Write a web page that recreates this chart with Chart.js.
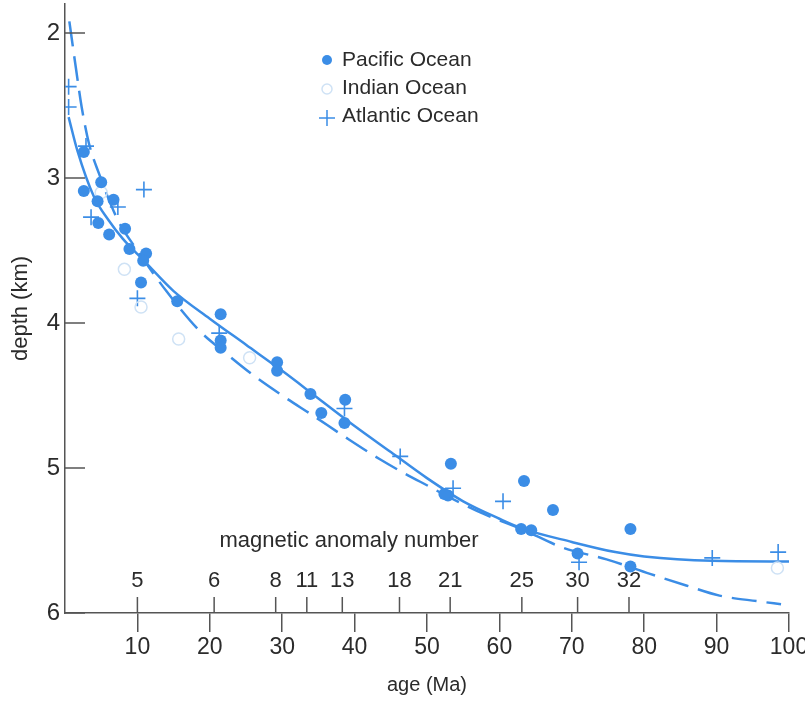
<!DOCTYPE html>
<html>
<head>
<meta charset="utf-8">
<title>Depth vs age of ocean floor</title>
<script src="https://cdn.jsdelivr.net/npm/chart.js@4.4.1/dist/chart.umd.min.js"></script>
<style>
  body { margin: 0; background: #fff; }
  #wrap { width: 805px; height: 704px; }
</style>
</head>
<body>
<div id="wrap"><canvas id="depthChart" width="805" height="704"></canvas></div>
<script>
// Data: age in Ma, depth in km
const pacificAge   = [2.6, 2.6, 5.0, 4.5, 6.7, 4.6, 6.1, 8.3, 8.9, 11.2, 10.8, 10.5, 15.5, 21.5, 21.5, 21.5,
                      29.3, 29.3, 33.9, 35.4, 38.7, 38.6, 53.3, 52.9, 52.4, 63.4, 63.0, 64.4, 67.4, 70.8, 78.1, 78.1];
const pacificDepth = [2.82, 3.09, 3.03, 3.16, 3.15, 3.31, 3.39, 3.35, 3.49, 3.52, 3.57, 3.72, 3.85, 3.94, 4.12, 4.17,
                      4.27, 4.33, 4.49, 4.62, 4.53, 4.69, 4.97, 5.19, 5.18, 5.09, 5.42, 5.43, 5.29, 5.59, 5.42, 5.68];

const indianAge   = [5.0, 8.2, 10.5, 15.7, 25.5, 98.4];
const indianDepth = [3.10, 3.63, 3.89, 4.11, 4.24, 5.69];

const atlanticAge   = [0.5, 0.5, 2.9, 3.6, 7.3, 10.9, 10.0, 21.3, 38.6, 46.3, 53.6, 60.5, 71.0, 89.4, 98.5];
const atlanticDepth = [2.37, 2.51, 2.78, 3.27, 3.20, 3.08, 3.83, 4.07, 4.59, 4.92, 5.14, 5.23, 5.65, 5.62, 5.58];

// solid fitted curve
const solidAge   = [0.5, 1.7, 4, 6, 8, 10.9, 15, 20, 25, 30, 35, 40, 45, 50, 55, 60, 63.3, 70, 76, 80, 89.4, 100.5];
const solidDepth = [2.58, 2.81, 3.13, 3.29, 3.42, 3.57, 3.78, 3.97, 4.15, 4.33, 4.52, 4.71, 4.89, 5.07, 5.23, 5.35,
                    5.42, 5.51, 5.58, 5.61, 5.64, 5.645];

// dashed model curve
const dashedAge   = [0.6, 1.5, 2.3, 3.3, 4.7, 7.3, 10, 14, 18.7, 22, 26, 30, 34.3, 38.5, 43.5, 47, 50.4, 53, 58, 63,
                     68.8, 74.8, 80.8, 85.8, 90.4, 95.9, 98.9];
const dashedDepth = [1.92, 2.24, 2.51, 2.76, 2.97, 3.29, 3.50, 3.78, 4.06, 4.20, 4.36, 4.50, 4.64, 4.78, 4.94, 5.04,
                     5.13, 5.20, 5.32, 5.42, 5.55, 5.63, 5.73, 5.81, 5.88, 5.92, 5.94];

const ageTicks = [10, 20, 30, 40, 50, 60, 70, 80, 90, 100];
const depthTicks = [2, 3, 4, 5, 6];

const anomalyNumbers = ['5', '6', '8', '11', '13', '18', '21', '25', '30', '32'];
const anomalyAges    = [10.0, 20.6, 29.1, 33.4, 38.3, 46.2, 53.2, 63.1, 70.8, 77.9];

const legendLabels = ['Pacific Ocean', 'Indian Ocean', 'Atlantic Ocean'];

const BLUE = '#3b8de6';
const FAINT = '#cfe2f5';
const INK = '#2b2b2b';
const AXIS = '#555';
const FONT = '"Liberation Sans", Arial, sans-serif';

function toPoints(xs, ys) {
    return xs.map((x, i) => ({ x: x, y: ys[i] }));
}

// Draws the inward depth ticks, the magnetic anomaly scale and the legend
const extras = {
    id: 'extras',
    afterDraw(chart) {
        const ctx = chart.ctx;
        const xs = chart.scales.x;
        const ys = chart.scales.y;
        const area = chart.chartArea;
        ctx.save();
        ctx.strokeStyle = AXIS;
        ctx.lineWidth = 1.5;

        // depth ticks point into the plot
        depthTicks.forEach(d => {
            const py = ys.getPixelForValue(d);
            ctx.beginPath();
            ctx.moveTo(area.left, py);
            ctx.lineTo(area.left + 20, py);
            ctx.stroke();
        });

        // magnetic anomaly scale sitting on top of the age axis
        ctx.fillStyle = INK;
        ctx.font = '22px ' + FONT;
        ctx.textAlign = 'center';
        ctx.textBaseline = 'middle';
        anomalyAges.forEach((a, i) => {
            const px = xs.getPixelForValue(a);
            ctx.beginPath();
            ctx.moveTo(px, area.bottom);
            ctx.lineTo(px, area.bottom - 16);
            ctx.stroke();
            ctx.fillText(anomalyNumbers[i], px, area.bottom - 32);
        });
        ctx.textBaseline = 'alphabetic';
        ctx.fillText('magnetic anomaly number', 349, 547);

        // legend
        const rows = [60, 88, 116];
        ctx.font = '21px ' + FONT;
        ctx.textAlign = 'left';
        ctx.textBaseline = 'middle';
        legendLabels.forEach((label, i) => {
            const y = rows[i];
            if (i === 0) {
                ctx.fillStyle = BLUE;
                ctx.beginPath();
                ctx.arc(327, y, 5, 0, Math.PI * 2);
                ctx.fill();
            } else if (i === 1) {
                ctx.strokeStyle = FAINT;
                ctx.beginPath();
                ctx.arc(327, y + 1, 5, 0, Math.PI * 2);
                ctx.stroke();
            } else {
                ctx.strokeStyle = BLUE;
                ctx.beginPath();
                ctx.moveTo(319, y + 2); ctx.lineTo(335, y + 2);
                ctx.moveTo(327, y - 6); ctx.lineTo(327, y + 10);
                ctx.stroke();
            }
            ctx.fillStyle = INK;
            ctx.fillText(label, 342, y);
        });
        ctx.restore();
    }
};

new Chart(document.getElementById('depthChart'), {
    type: 'scatter',
    data: {
        datasets: [
            {
                label: 'Pacific Ocean',
                data: toPoints(pacificAge, pacificDepth),
                pointStyle: 'circle',
                pointRadius: 6,
                pointBackgroundColor: BLUE,
                pointBorderWidth: 0,
                order: 1
            },
            {
                label: 'Indian Ocean',
                data: toPoints(indianAge, indianDepth),
                pointStyle: 'circle',
                pointRadius: 6,
                pointBackgroundColor: 'rgba(0,0,0,0)',
                pointBorderColor: FAINT,
                pointBorderWidth: 1.5,
                order: 1
            },
            {
                label: 'Atlantic Ocean',
                data: toPoints(atlanticAge, atlanticDepth),
                pointStyle: 'cross',
                pointRadius: 8,
                pointBorderColor: BLUE,
                pointBorderWidth: 1.6,
                order: 1
            },
            {
                label: 'fit',
                data: toPoints(solidAge, solidDepth),
                showLine: true,
                borderColor: BLUE,
                borderWidth: 2.5,
                pointRadius: 0,
                cubicInterpolationMode: 'monotone',
                order: 2
            },
            {
                label: 'model',
                data: toPoints(dashedAge, dashedDepth),
                showLine: true,
                borderColor: BLUE,
                borderWidth: 2.5,
                borderDash: [25, 10],
                pointRadius: 0,
                cubicInterpolationMode: 'monotone',
                order: 2
            }
        ]
    },
    options: {
        responsive: false,
        animation: false,
        layout: { autoPadding: false, padding: { top: 4, right: 16, left: 0, bottom: 0 } },
        plugins: {
            legend: { display: false },
            tooltip: { enabled: false }
        },
        scales: {
            x: {
                type: 'linear',
                min: 0,
                max: 100,
                afterBuildTicks: s => { s.ticks = ageTicks.map(v => ({ value: v })); },
                afterFit: s => { s.height = 91; s.paddingLeft = 0; s.paddingRight = 0; },
                grid: {
                    display: true,
                    drawOnChartArea: false,
                    drawTicks: true,
                    tickLength: 19,
                    color: AXIS,
                    lineWidth: 1.5
                },
                border: { display: true, color: AXIS, width: 1.5 },
                ticks: {
                    color: INK,
                    font: { family: FONT, size: 23 },
                    padding: 2,
                    maxRotation: 0,
                    autoSkip: false
                },
                title: {
                    display: true,
                    text: 'age (Ma)',
                    color: INK,
                    font: { family: FONT, size: 20 },
                    padding: { bottom: 7 }
                }
            },
            y: {
                type: 'linear',
                reverse: true,
                min: 1.8,
                max: 6,
                afterBuildTicks: s => { s.ticks = depthTicks.map(v => ({ value: v })); },
                afterFit: s => { s.width = 65; s.paddingTop = 0; s.paddingBottom = 0; },
                grid: { display: false, drawTicks: false },
                border: { display: true, color: AXIS, width: 1.5 },
                ticks: {
                    color: INK,
                    font: { family: FONT, size: 24 },
                    padding: 5
                },
                title: {
                    display: true,
                    text: 'depth (km)',
                    color: INK,
                    font: { family: FONT, size: 22 },
                    padding: { top: 8 }
                }
            }
        }
    },
    plugins: [extras]
});
</script>
</body>
</html>
